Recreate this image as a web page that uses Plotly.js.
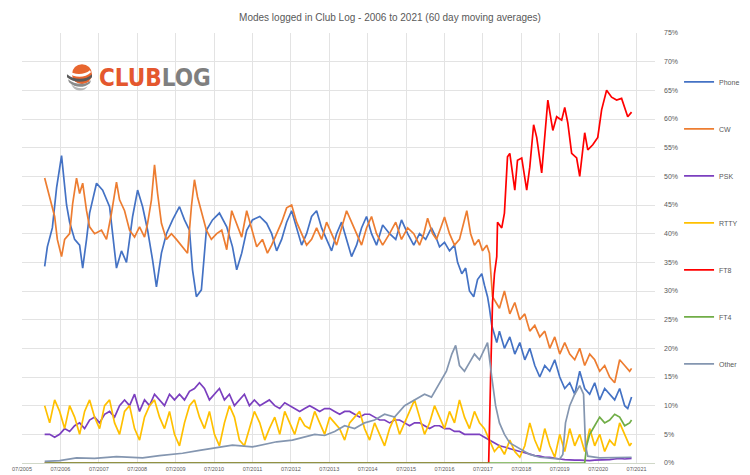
<!DOCTYPE html>
<html>
<head>
<meta charset="utf-8">
<script src="https://cdn.plot.ly/plotly-3.0.1.min.js"></script>
<style>html,body{margin:0;padding:0;background:#fff;}#chart{width:750px;height:475px;}</style>
</head>
<body>
<div id="chart"></div>
<script>
// ---- Data (x = decimal year, y = % of QSOs, 60-day moving averages) ----
const tickYears = [2005.5,2006.5,2007.5,2008.5,2009.5,2010.5,2011.5,2012.5,2013.5,2014.5,2015.5,2016.5,2017.5,2018.5,2019.5,2020.5,2021.5];
const tickLabels = ["07/2005","07/2006","07/2007","07/2008","07/2009","07/2010","07/2011","07/2012","07/2013","07/2014","07/2015","07/2016","07/2017","07/2018","07/2019","07/2020","07/2021"];

const phoneX = [2006.09,2006.16,2006.29,2006.40,2006.53,2006.66,2006.74,2006.87,2007.00,2007.08,2007.18,2007.26,2007.44,2007.60,2007.78,2007.91,2007.96,2008.09,2008.22,2008.38,2008.51,2008.64,2008.77,2008.90,2009.00,2009.13,2009.26,2009.42,2009.60,2009.73,2009.86,2009.94,2010.04,2010.17,2010.30,2010.46,2010.64,2010.83,2010.98,2011.09,2011.22,2011.35,2011.50,2011.69,2011.87,2012.00,2012.13,2012.26,2012.39,2012.52,2012.65,2012.78,2012.91,2013.04,2013.17,2013.30,2013.43,2013.56,2013.69,2013.82,2013.95,2014.08,2014.21,2014.34,2014.47,2014.60,2014.73,2014.89,2015.07,2015.23,2015.38,2015.54,2015.70,2015.85,2016.01,2016.16,2016.27,2016.37,2016.50,2016.63,2016.76,2016.84,2016.95,2017.05,2017.15,2017.26,2017.36,2017.47,2017.54,2017.62,2017.67,2017.73,2017.86,2017.93,2018.06,2018.20,2018.33,2018.46,2018.59,2018.72,2018.85,2018.98,2019.11,2019.24,2019.37,2019.50,2019.63,2019.76,2019.89,2020.02,2020.15,2020.28,2020.41,2020.54,2020.67,2020.80,2020.93,2021.06,2021.19,2021.27,2021.37];
const phoneY = [34.3,37.7,41,48,53.6,45,42,39,38,34,39,43.6,48.8,47.6,44.7,37.7,34,37,35,43,47.6,44.7,40.6,35.4,30.7,36.6,40,42.4,44.7,42.4,40.6,33.7,29,30.2,40.6,42.4,43.6,41.2,37.7,33.7,36.6,40.6,42.4,43,41.8,40,37,39,42,44,41,38,40,43,44,41,39,37,40,42,39,36,38,41,43,40,38,41.5,40,39,42.4,40,38,40,39,41,39.5,37.7,38.5,37,38,35,33,34,30,29,32,33,31,29,27,24,21,23,20,22,19,21,18,20,17,15,17,16,18,15,13,14,12,16,13,12,14,11,13,12,11,13,10,9.5,11.5];

const cwX = [2006.09,2006.22,2006.35,2006.42,2006.53,2006.61,2006.74,2006.82,2006.92,2007.00,2007.08,2007.18,2007.26,2007.39,2007.57,2007.70,2007.83,2007.96,2008.04,2008.17,2008.30,2008.43,2008.56,2008.69,2008.77,2008.87,2008.95,2009.03,2009.13,2009.26,2009.39,2009.52,2009.68,2009.81,2009.91,2009.99,2010.07,2010.17,2010.30,2010.43,2010.57,2010.70,2010.83,2010.96,2011.09,2011.22,2011.35,2011.48,2011.61,2011.76,2011.89,2012.00,2012.13,2012.26,2012.39,2012.52,2012.65,2012.78,2012.91,2013.04,2013.17,2013.30,2013.43,2013.56,2013.69,2013.82,2013.95,2014.08,2014.21,2014.34,2014.47,2014.60,2014.73,2014.89,2015.07,2015.23,2015.38,2015.54,2015.70,2015.85,2015.96,2016.06,2016.19,2016.29,2016.40,2016.50,2016.63,2016.76,2016.89,2017.00,2017.08,2017.18,2017.28,2017.39,2017.49,2017.60,2017.67,2017.75,2017.93,2018.06,2018.20,2018.33,2018.46,2018.59,2018.72,2018.85,2018.98,2019.11,2019.24,2019.37,2019.50,2019.63,2019.76,2019.89,2020.02,2020.15,2020.28,2020.41,2020.54,2020.67,2020.80,2020.93,2021.06,2021.19,2021.32,2021.37];
const cwY = [49.7,46.4,43,39,36,39,40,45.3,49.7,47,48.8,44,41.2,40,40.6,39,43.6,49,45.9,44,40.6,39.4,41.2,39.4,41.8,45.9,52,47,41.8,39,40,39,37.7,36.6,44.7,49.4,46.4,44,40.6,39,40,40.6,37.2,44,41.8,39.4,44,40.6,37.7,39,36.6,38,40,42,44.5,45,42,40,38,39,41,39,42,40,38,41,44,42,40,38,41,43,40,38,40,42,39,41,40,38,40,42.7,40,39,41,42.9,40,38,39,42,44,40,38,39,37,38,36.6,29,27,30,26,28,25,26,23,24,22,23,20,22,19,21,19,18,20,17,19,18,16,17,15,14,18,17,16,16.5];

const gridX = [2006.09,2006.22,2006.35,2006.48,2006.61,2006.74,2006.87,2007.00,2007.13,2007.26,2007.39,2007.52,2007.65,2007.78,2007.91,2008.04,2008.17,2008.30,2008.43,2008.56,2008.69,2008.82,2008.95,2009.08,2009.21,2009.34,2009.47,2009.60,2009.73,2009.86,2009.99,2010.12,2010.25,2010.38,2010.51,2010.64,2010.77,2010.90,2011.03,2011.16,2011.29,2011.42,2011.55,2011.69,2011.82,2011.94,2012.08,2012.21,2012.34,2012.47,2012.60,2012.73,2012.86,2012.99,2013.12,2013.25,2013.38,2013.51,2013.64,2013.77,2013.90,2014.03,2014.16,2014.29,2014.42,2014.55,2014.68,2014.81,2014.94,2015.07,2015.20,2015.33,2015.46,2015.59,2015.72,2015.85,2015.98,2016.11,2016.24,2016.37,2016.50,2016.63,2016.76,2016.89,2017.02,2017.15,2017.28,2017.41,2017.54,2017.67,2017.80,2017.93,2018.06,2018.20,2018.33,2018.46,2018.59,2018.72,2018.85,2018.98,2019.11,2019.24,2019.37,2019.50,2019.63,2019.76,2019.89,2020.02,2020.15,2020.28,2020.41,2020.54,2020.67,2020.80,2020.93,2021.06,2021.19,2021.32,2021.37];
const pskY = [5,5,4.5,5,6,5.5,6.5,7,6,7.5,8,7,8.5,9,8,10,11,10,12,9,11,10,12,11,10,12,11,12,11,12.5,13,14,13,11,12,13,11,12,10,11,12,10,11,10,10.5,11,10,9.5,10.5,10,9.5,9,9.5,10,9.5,9,9.5,9.5,9,8.5,9,9,8.5,8,8.5,8.5,8,7.5,7.5,7,7.5,7.5,7,6.5,7,7,6.5,6,6.5,6.5,6,6,5.5,5.5,5,5,5,5,4.5,4,3.5,3,2.8,2.5,2.2,2,1.8,1.5,1.3,1.2,1,1,0.8,0.7,0.6,0.5,0.5,0.5,0.4,0.4,0.5,0.5,0.5,0.6,0.7,0.8,0.7,0.7,0.8];
const rttyY = [10,7,11,9,6,10,8,5,9,11,8,6,10,11,7,5,9,10,6,4,8,10,11,8,6,9,5,3,7,10,11,8,6,9,5,3,7,10,8,4,3,6,9,7,4,6,8,5,9,7,5,8,6.5,6,9,7,5,8,7,6,4,7,8,9,6,4,7,5,3,6,8,5,7,9,11,8,5,7,10,8,6,9,7,11,8,6,9,7,6,4,2,3,1.5,4,2,1,3,7,4,2,6,3,1,5,2,6,3,5,2,6,3,5,2,4,3,7,5,3,3.5];

const ft8X = [2006.09,2017.65,2017.70,2017.75,2017.80,2017.86,2017.88,2017.99,2018.06,2018.14,2018.20,2018.33,2018.40,2018.51,2018.64,2018.72,2018.82,2018.90,2019.03,2019.16,2019.19,2019.32,2019.42,2019.55,2019.63,2019.71,2019.81,2019.94,2020.02,2020.15,2020.23,2020.36,2020.49,2020.59,2020.72,2020.85,2020.98,2021.11,2021.19,2021.27,2021.37];
const ft8Y = [0,0,15,28,33,36,42,41,43.6,53.4,54,47.6,52.8,53.2,47.6,51.6,59,56.8,50.6,60.4,63.3,58,60.4,59.8,62,59.3,54,53.2,50,57.6,54.6,55.5,56.8,61.6,65,63.8,63.3,63.6,61.9,60.4,61.2];

const ft4X = [2006.09,2020.15,2020.20,2020.28,2020.41,2020.54,2020.67,2020.80,2020.93,2021.06,2021.19,2021.32,2021.37];
const ft4Y = [0,0,3,5,6.5,8,7,7.5,8.5,8,6.5,7,7.5];

const otherX = [2006.09,2006.48,2006.92,2007.39,2007.96,2008.30,2008.64,2009.08,2009.68,2010.12,2010.46,2010.98,2011.50,2011.82,2012.13,2012.54,2012.86,2013.12,2013.38,2013.64,2013.90,2014.16,2014.42,2014.68,2014.94,2015.20,2015.46,2015.72,2015.98,2016.16,2016.37,2016.55,2016.69,2016.79,2016.89,2017.02,2017.15,2017.28,2017.41,2017.54,2017.62,2017.73,2017.83,2017.93,2018.06,2018.20,2018.46,2018.72,2018.98,2019.24,2019.50,2019.58,2019.65,2019.76,2019.89,2020.02,2020.12,2020.17,2020.23,2020.54,2020.93,2021.37];
const otherY = [0.3,0.4,0.9,0.8,1.1,1.0,0.9,1.3,1.7,2.2,2.6,3.1,2.8,3.2,3.7,4,4.5,5,4.8,5.5,6.5,6,7,7.5,8.5,8,10,11,12,11.5,14,16,19,20.5,17,16,17.5,19,18,20,21,15,10,7,5,3.5,2.5,1.5,1,0.8,0.7,1.5,7,10,12,13.5,12,3,1.2,0.9,0.9,1];

const seriesNames = ["Phone","CW","PSK","RTTY","FT8","FT4","Other"];
const seriesColors = ["#4472C4","#ED7D31","#7B3FBF","#FFC000","#FF0000","#70AD47","#8496B0"];
const seriesX = [phoneX, cwX, gridX, gridX, ft8X, ft4X, otherX];
const seriesY = [phoneY, cwY, pskY, rttyY, ft8Y, ft4Y, otherY];

const traces = seriesNames.map((n,i)=>({
  type:'scatter', mode:'lines', name:n, legendgroup:n,
  x: seriesX[i], y: seriesY[i],
  line:{color:seriesColors[i], width:1.7},
  hoverinfo:'x+y+name'
}));

// logo anchor (decoration)
const lx = 0.0916, ly = 0.895;
const iconShape = (path, fill) => ({type:'path', xref:'paper', yref:'paper', xsizemode:'pixel', ysizemode:'pixel', xanchor:lx, yanchor:ly, path:path, fillcolor:fill, line:{width:0}, layer:'above'});

const layout = {
  width:750, height:475,
  margin:{l:22, r:95, t:33, b:12, autoexpand:false},
  paper_bgcolor:'#ffffff', plot_bgcolor:'#ffffff',
  font:{family:'Liberation Sans, Arial, sans-serif', color:'#595959'},
  title:{text:'Modes logged in Club Log - 2006 to 2021 (60 day moving averages)',
         font:{size:10, color:'#595959'}, xref:'container', x:0.52, xanchor:'center', yref:'container', y:0.964, yanchor:'middle'},
  xaxis:{range:[2005.5, 2021.98], tickmode:'array', tickvals:tickYears, ticktext:tickLabels, automargin:false,
         showgrid:true, gridcolor:'#E3E3E3', gridwidth:1, tickfont:{size:5.5, color:'#595959'},
         showline:true, linecolor:'#D0D8C8', linewidth:1, zeroline:false, ticks:'', fixedrange:true},
  yaxis:{side:'right', range:[0,75], dtick:5, ticksuffix:'%', showgrid:true, gridcolor:'#E3E3E3', gridwidth:1, automargin:false,
         tickfont:{size:7, color:'#595959'}, zeroline:false, ticks:'', ticklabelstandoff:8, fixedrange:true},
  showlegend:true,
  legend:{x:1.038, xanchor:'left', y:0.92, yanchor:'top', font:{size:7, color:'#595959'}, tracegroupgap:28, bgcolor:'rgba(0,0,0,0)'},
  annotations:[
    {xref:'paper', yref:'paper', x:0.1185, y:ly, xanchor:'left', yanchor:'middle', showarrow:false,
     text:'<b><span style="color:#E4572E">CLUB</span><span style="color:#7F7F7F">LOG</span></b>',
     font:{family:'Liberation Sans Narrow, DejaVu Sans Condensed, Arial Narrow, sans-serif', size:24}}
  ],
  shapes:[
    {type:'circle', xref:'paper', yref:'paper', xsizemode:'pixel', ysizemode:'pixel', xanchor:lx, yanchor:ly, x0:-8, x1:12, y0:-6, y1:14, fillcolor:'#E8662F', line:{width:0}, layer:'above'},
    iconShape('M -13,4 C -6,-2 6,-2 12,4 L 12,1 C 6,-5 -6,-5 -13,1 Z', '#5A5A5A'),
    iconShape('M -12,-1 C -5,-7 6,-7 11,-2 L 10,-5 C 4,-10 -5,-10 -11,-4 Z', '#8A8A8A'),
    iconShape('M -9,-6 C -3,-11 4,-11 8,-8 L 5,-11 C 1,-13 -4,-13 -7,-9 Z', '#B5B5B5'),
    iconShape('M -12,8 C -6,3 4,3 10,8 L 11,6 C 5,0 -6,0 -12,6 Z', '#FFFFFF')
  ]
};

Plotly.newPlot('chart', traces, layout, {displayModeBar:false, staticPlot:true});
</script>
</body>
</html>
